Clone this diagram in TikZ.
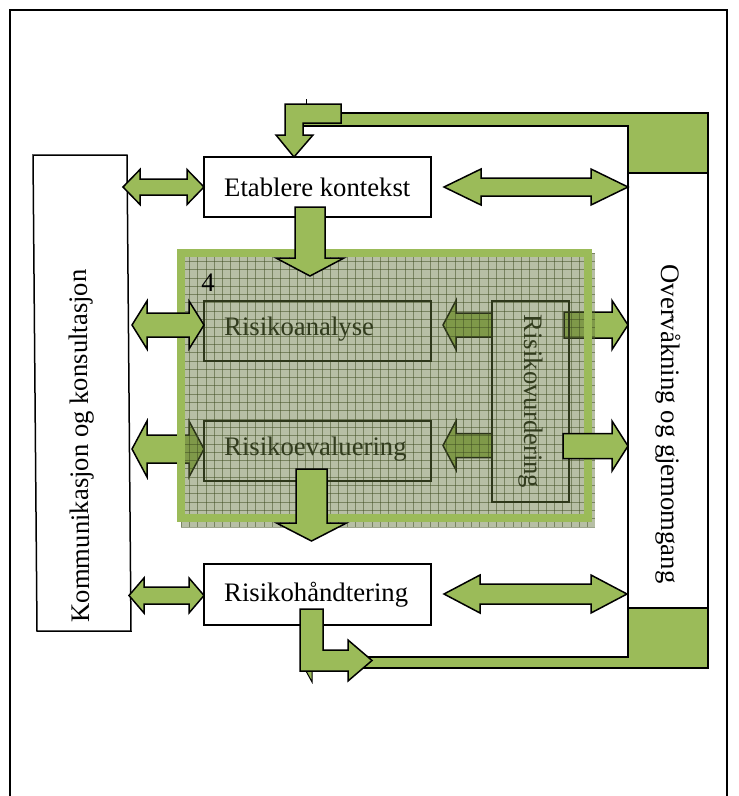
\documentclass[tikz,border=0pt]{standalone}
\usepackage{fontspec}
\setmainfont{Liberation Serif}
\definecolor{agreen}{RGB}{155,187,89}
\definecolor{overlaycol}{RGB}{95,112,55}
\definecolor{gridcol}{RGB}{60,75,30}
\definecolor{darkline}{RGB}{45,55,25}
\definecolor{darktext}{RGB}{50,60,30}
\newcommand\HDArrow[7][]{% x1 x2 y headlen headhalf shafthalf
  \draw[blockarrow,#1] (#2,#4) -- ({#2+#5},{#4-#6}) -- ({#2+#5},{#4-#7}) -- ({#3-#5},{#4-#7}) -- ({#3-#5},{#4-#6}) -- (#3,#4) -- ({#3-#5},{#4+#6}) -- ({#3-#5},{#4+#7}) -- ({#2+#5},{#4+#7}) -- ({#2+#5},{#4+#6}) -- cycle;}
\newcommand\HSArrow[7][]{% xstart xtip y headlen headhalf shafthalf
  \draw[blockarrow,#1] (#2,{#4-#7}) -- ({#3-#5},{#4-#7}) -- ({#3-#5},{#4-#6}) -- (#3,#4) -- ({#3-#5},{#4+#6}) -- ({#3-#5},{#4+#7}) -- (#2,{#4+#7}) -- cycle;}
\newcommand\VSArrow[7][]{% x ystart ytip headlen headhalf shafthalf
  \draw[blockarrow,#1] ({#2-#7},#3) -- ({#2+#7},#3) -- ({#2+#7},{#4-#5}) -- ({#2+#6},{#4-#5}) -- (#2,#4) -- ({#2-#6},{#4-#5}) -- ({#2-#7},{#4-#5}) -- cycle;}
\begin{document}
\begin{tikzpicture}[x={(1pt,0)},y={(0,-1pt)},
  blockarrow/.style={draw=black,fill=agreen,line width=1.5pt,line join=miter},
  whitebox/.style={draw=black,fill=white,line width=1.5pt,inner sep=0pt},
  innerbox/.style={draw=darkline,line width=1.5pt,inner sep=0pt},
  lbl/.style={font=\fontsize{26.7}{30}\selectfont,inner sep=0pt}]
\useasboundingbox (0,0) rectangle (739,796);
% outer frame
\draw[line width=2pt] (10,796) -- (10,9.5) -- (727,9.5) -- (727,796);
% Kommunikasjon og konsultasjon
\draw[line width=1.5pt,fill=white] (33,155) -- (127,155) -- (131,631) -- (37,631) -- cycle;
\node[lbl,rotate=90.5] (komm) at (82,446) {Kommunikasjon og konsultasjon};
% Overvaakning og gjemomgang
\node[whitebox,minimum width=80pt,minimum height=531pt] (overv) at (668,391.5) {};
\node[lbl,rotate=-90] (overvtxt) at (668,424) {Overvåkning og gjemomgang};
% Etablere kontekst / Risikohaandtering
\node[whitebox,minimum width=227pt,minimum height=60pt] (etab) at (317.5,187) {};
\node[lbl,anchor=west] (etabtxt) at (224,187) {Etablere kontekst};
\node[whitebox,minimum width=227pt,minimum height=61pt] (hand) at (317.5,594.5) {};
\node[lbl,anchor=west] (handtxt) at (224,594.5) {Risikohåndtering};
% return paths
\draw[blockarrow] (300,113) -- (708,113) -- (708,173) -- (628,173) -- (628,126) -- (300,126) -- cycle;
\draw[line width=1pt] (306,99) -- (306,105);
\draw[blockarrow] (285,104) -- (341,104) -- (341,123) -- (303,123) -- (303,135) -- (313,135) -- (294,157) -- (276,135) -- (285,135) -- cycle;
\draw[blockarrow] (340,657) -- (628,657) -- (628,608) -- (708,608) -- (708,668) -- (340,668) -- cycle;
\draw[blockarrow,line width=1pt] (306,671) -- (312,671) -- (312,682) -- cycle;
\draw[blockarrow] (300,609) -- (323,609) -- (323,650) -- (348,650) -- (348,640) -- (372,660.5) -- (348,681) -- (348,671) -- (300,671) -- cycle;
% arrows lying under the overlay
\HDArrow{132}{204}{449}{15}{28}{14}
\HSArrow{492}{443}{325}{-13}{24.5}{12}
\HSArrow{492}{443}{445.5}{-13}{24.5}{12}
\HSArrow{564}{628}{325}{16}{24.5}{13}
% risk assessment overlay
\fill[overlaycol,opacity=0.45] (181,253) rectangle (595,527);
\begin{scope}
\clip (181,253) rectangle (595,527);
\foreach \i in {0,...,50} {
  \draw[gridcol,opacity=0.5,line width=0.7pt] ({181+8.3*\i},253) -- ({181+8.3*\i},527);
}
\foreach \j in {0,...,33} {
  \draw[gridcol,opacity=0.5,line width=0.7pt] (181,{253+8.3*\j}) -- (595,{253+8.3*\j});
}
\end{scope}
\draw[agreen,line width=8pt] (181,253) rectangle (588,518);
% inner boxes
\node[innerbox,minimum width=227pt,minimum height=60pt] (anal) at (317.5,331) {};
\node[lbl,anchor=west,text=darktext] (analtxt) at (224,329) {Risikoanalyse};
\node[innerbox,minimum width=227pt,minimum height=60pt] (eval) at (317.5,451) {};
\node[lbl,anchor=west,text=darktext] (evaltxt) at (224,449) {Risikoevaluering};
\node[innerbox,lbl,text=darktext,rotate=-90,minimum width=201pt,minimum height=77pt] (vurd) at (530.5,401.5) {Risikovurdering};
\node[lbl] (four) at (208,283) {4};
% arrows on top
\HDArrow{132}{204}{325}{15}{24}{12}
\VSArrow{310}{207}{276}{18}{34}{15}
\VSArrow{311.5}{469}{541}{18}{35}{15.5}
\HSArrow{563}{628}{446}{16}{25}{12.5}
% outside double arrows
\HDArrow{123}{204}{187}{17}{17.5}{8}
\HDArrow{444}{628}{187}{37}{18}{9}
\HDArrow{129}{204}{595.5}{15}{17.5}{8.5}
\HDArrow{444}{627}{594}{36}{19}{10}
\end{tikzpicture}
\end{document}
